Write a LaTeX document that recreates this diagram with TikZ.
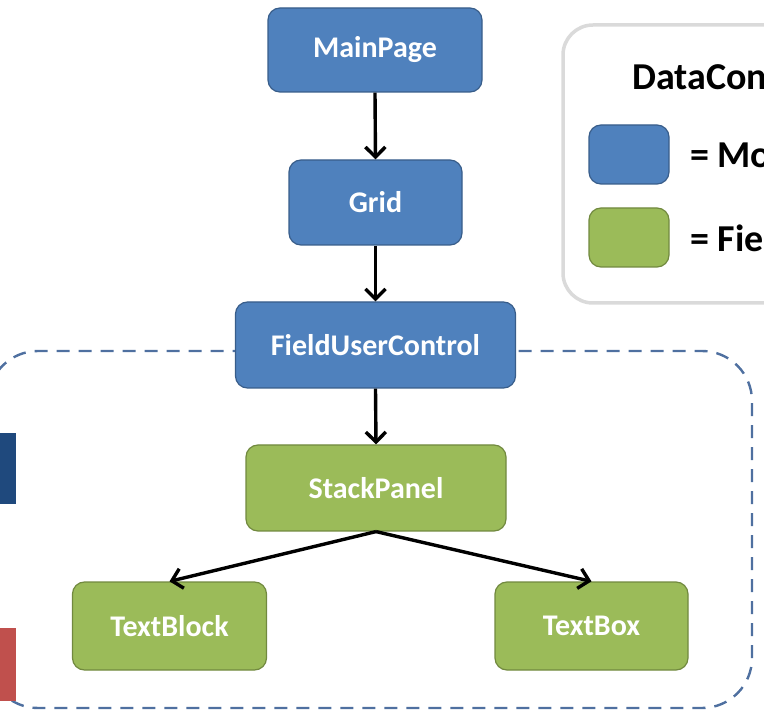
\documentclass[tikz,border=0pt]{standalone}
\usepackage{fontspec}
\setmainfont{Carlito}
\usetikzlibrary{arrows.meta}

\definecolor{modelblue}{RGB}{79,129,189}
\definecolor{modelblueline}{RGB}{56,93,138}
\definecolor{fieldgreen}{RGB}{155,187,89}
\definecolor{fieldgreenline}{RGB}{113,137,63}
\definecolor{groupdash}{RGB}{79,112,160}
\definecolor{legendgray}{RGB}{218,218,218}
\definecolor{bardarkblue}{RGB}{31,73,125}
\definecolor{barred}{RGB}{192,80,77}

\tikzset{
  ctlbox/.style={rounded corners=12pt, line width=1.2pt, text=white,
    font=\fontsize{30}{36}\selectfont\bfseries, inner sep=0pt},
  bluebox/.style={ctlbox, draw=modelblueline, fill=modelblue},
  greenbox/.style={ctlbox, draw=fieldgreenline, fill=fieldgreen},
  link/.style={line width=3.4pt, -{Straight Barb[length=10pt,width=20pt,line width=3.4pt]}},
  groupframe/.style={draw=groupdash, line width=2.4pt, dash pattern=on 13pt off 9pt, rounded corners=50pt},
  legendframe/.style={draw=legendgray, line width=3.5pt, rounded corners=30pt},
  legendtext/.style={font=\fontsize{38}{44}\selectfont\bfseries, text=black, inner sep=0pt}
}

\begin{document}
\begin{tikzpicture}[x=1pt,y=-1pt]
\useasboundingbox (0,0) rectangle (764,711);
\clip (0,0) rectangle (764,711);

% dashed group around the field user control
\draw[groupframe] (-12,351) rectangle (752,708);

% side bars
\fill[bardarkblue] (0,433) rectangle (16,504);
\fill[barred] (0,628) rectangle (16,701);

% legend (runs past the right edge)
\draw[legendframe] (563,25) rectangle (820,303);
\node[legendtext, anchor=base west] (legtitle) at (632,90) {DataCon};
\node[bluebox, minimum width=80pt, minimum height=59pt] (legblue) at (629,154.5) {};
\node[greenbox, minimum width=80pt, minimum height=59pt] (leggreen) at (629,237.5) {};
\node[legendtext, anchor=west] (legbluetext) at (690,155) {= Mo};
\node[legendtext, anchor=west] (leggreentext) at (690,238) {= Fie};

% control tree
\node[bluebox, minimum width=214pt, minimum height=84pt] (main) at (375,50) {MainPage};
\node[bluebox, minimum width=173pt, minimum height=85pt] (grid) at (375.5,202.5) {Grid};
\node[bluebox, minimum width=280pt, minimum height=86pt] (fuc) at (375.5,345) {FieldUserControl};
\node[greenbox, minimum width=260pt, minimum height=86pt] (stack) at (376,488) {StackPanel};
\node[greenbox, minimum width=194pt, minimum height=88pt] (tblock) at (169.5,626) {TextBlock};
\node[greenbox, minimum width=193pt, minimum height=88pt] (tbox) at (591.5,626) {TextBox};

\draw[link] (main.south) -- (grid.north);
\draw[link] (grid.south) -- (fuc.north);
\draw[link] (fuc.south) -- (stack.north);
\draw[link] (stack.south) -- (tblock.north);
\draw[link] (stack.south) -- (tbox.north);
\end{tikzpicture}
\end{document}
